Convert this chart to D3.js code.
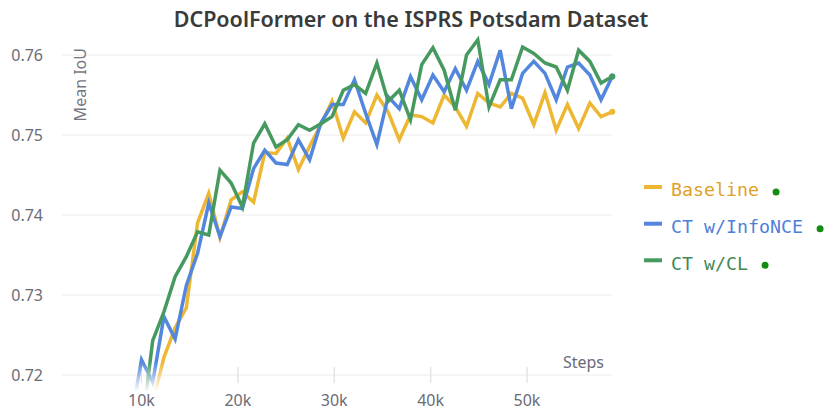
<!DOCTYPE html>
<html>
<head>
<meta charset="utf-8">
<script src="https://cdn.jsdelivr.net/npm/d3@7"></script>
<style>
  html, body { margin: 0; padding: 0; background: #fff; }
  #chart { width: 826px; height: 411px; }
</style>
</head>
<body>
<div id="chart"></div>
<script>
// Data
const steps = [8837, 10000, 11163, 12326, 13489, 14652, 15815, 16978, 18141, 19304, 20467,
    21630, 22793, 23956, 25119, 26282, 27445, 28608, 29771, 30934, 32097, 33260, 34423,
    35586, 36749, 37912, 39075, 40238, 41401, 42564, 43727, 44890, 46053, 47216, 48379,
    49542, 50705, 51868, 53031, 54194, 55357, 56520, 57683, 58846];

const baseline = [0.7095, 0.7115, 0.7165, 0.7222, 0.7259, 0.7284, 0.7390, 0.7427, 0.7372, 0.7419,
    0.7429, 0.7416, 0.7478, 0.7477, 0.7496, 0.7457, 0.7486, 0.7513, 0.7542, 0.7496, 0.7529,
    0.7515, 0.7550, 0.7529, 0.7494, 0.7525, 0.7523, 0.7515, 0.7550, 0.7535, 0.7511, 0.7552,
    0.7540, 0.7535, 0.7552, 0.7546, 0.7513, 0.7553, 0.7506, 0.7538, 0.7508, 0.7540, 0.7523, 0.7529];

const infoNCE = [0.7139, 0.7219, 0.7191, 0.7273, 0.7245, 0.7312, 0.7352, 0.7415, 0.7373, 0.7410,
    0.7408, 0.7458, 0.7481, 0.7465, 0.7463, 0.7494, 0.7469, 0.7515, 0.7538, 0.7538, 0.7569,
    0.7527, 0.7488, 0.7548, 0.7533, 0.7573, 0.7544, 0.7575, 0.7554, 0.7583, 0.7556, 0.7592,
    0.7563, 0.7606, 0.7533, 0.7577, 0.7592, 0.7577, 0.7544, 0.7585, 0.7590, 0.7575, 0.7544, 0.7573];

const ctCL = [0.7070, 0.7130, 0.7243, 0.7279, 0.7323, 0.7348, 0.7379, 0.7375, 0.7456, 0.7440,
    0.7410, 0.7490, 0.7514, 0.7485, 0.7494, 0.7513, 0.7506, 0.7514, 0.7523, 0.7556, 0.7563,
    0.7552, 0.7590, 0.7542, 0.7556, 0.7519, 0.7588, 0.7609, 0.7581, 0.7531, 0.7600, 0.7619,
    0.7535, 0.7569, 0.7569, 0.7610, 0.7602, 0.7590, 0.7585, 0.7556, 0.7606, 0.7592, 0.7565, 0.7573];

const seriesNames = ['Baseline', 'CT w/InfoNCE', 'CT w/CL'];
const yTicks = [0.72, 0.73, 0.74, 0.75, 0.76];
const xTicks = [10000, 20000, 30000, 40000, 50000];

// Layout
const width = 826;
const height = 411;
const lineColors = ['#EDB732', '#5387DD', '#479A5F'];
const textColors = ['#E0A12A', '#4F80D8', '#3F8A55'];

const svg = d3.select('#chart')
    .append('svg')
    .attr('width', width)
    .attr('height', height);

const x = d3.scaleLinear()
    .domain([10000, 50000])
    .range([141.5, 527]);

const y = d3.scaleLinear()
    .domain([0.72, 0.76])
    .range([375, 55]);

const gridLeft = 62;
const gridRight = 612;

// Title
svg.append('text')
    .attr('x', 411)
    .attr('y', 27)
    .attr('text-anchor', 'middle')
    .style('font-family', '"Noto Sans", sans-serif')
    .style('font-size', '21.5px')
    .style('font-weight', '600')
    .style('fill', '#3a3a3a')
    .text('DCPoolFormer on the ISPRS Potsdam Dataset');

// Horizontal grid lines
svg.append('g')
    .attr('class', 'grid')
    .selectAll('line')
    .data(yTicks)
    .enter()
    .append('line')
    .attr('x1', gridLeft)
    .attr('x2', gridRight)
    .attr('y1', d => y(d))
    .attr('y2', d => y(d))
    .style('stroke', '#ececec')
    .style('stroke-width', 1);

// Y tick labels
svg.append('g')
    .selectAll('text')
    .data(yTicks)
    .enter()
    .append('text')
    .attr('x', 43)
    .attr('y', d => y(d))
    .attr('dy', '0.35em')
    .attr('text-anchor', 'end')
    .style('font-family', '"Noto Sans", sans-serif')
    .style('font-size', '16px')
    .style('fill', '#6b6b76')
    .text(d => d.toFixed(2));

// X axis tick marks and labels
const xAxis = svg.append('g').attr('class', 'x-axis');

xAxis.selectAll('line')
    .data(xTicks)
    .enter()
    .append('line')
    .attr('x1', d => x(d))
    .attr('x2', d => x(d))
    .attr('y1', y(0.72) - 8)
    .attr('y2', y(0.72) + 8)
    .style('stroke', '#e4e4e4')
    .style('stroke-width', 1.5);

xAxis.selectAll('text')
    .data(xTicks)
    .enter()
    .append('text')
    .attr('x', d => x(d))
    .attr('y', 400)
    .attr('dy', '0.35em')
    .attr('text-anchor', 'middle')
    .style('font-family', '"Noto Sans", sans-serif')
    .style('font-size', '16px')
    .style('fill', '#6b6b76')
    .text(d => (d / 1000) + 'k');

// Axis labels
svg.append('text')
    .attr('transform', 'translate(80, 48) rotate(-90)')
    .attr('dy', '0.35em')
    .attr('text-anchor', 'end')
    .style('font-family', '"Noto Sans", sans-serif')
    .style('font-size', '16px')
    .style('fill', '#77777f')
    .text('Mean IoU');

svg.append('text')
    .attr('x', 604)
    .attr('y', 362)
    .attr('dy', '0.35em')
    .attr('text-anchor', 'end')
    .style('font-family', '"Noto Sans", sans-serif')
    .style('font-size', '16px')
    .style('fill', '#6b6b76')
    .text('Steps');

// Fade the lines out below the x axis
const defs = svg.append('defs');
const fade = defs.append('linearGradient')
    .attr('id', 'fade')
    .attr('gradientUnits', 'userSpaceOnUse')
    .attr('x1', 0).attr('y1', 362)
    .attr('x2', 0).attr('y2', 392);
fade.append('stop').attr('offset', '0%').attr('stop-color', '#fff');
fade.append('stop').attr('offset', '100%').attr('stop-color', '#000');

defs.append('mask')
    .attr('id', 'fade-mask')
    .attr('maskUnits', 'userSpaceOnUse')
    .attr('x', 0).attr('y', 0)
    .attr('width', width).attr('height', height)
    .append('rect')
    .attr('x', 0).attr('y', 0)
    .attr('width', width).attr('height', height)
    .attr('fill', 'url(#fade)');

// Lines
const allSeries = [baseline, infoNCE, ctCL];
const line = d3.line()
    .x((d, i) => x(steps[i]))
    .y(d => y(d));

const lines = svg.append('g')
    .attr('mask', 'url(#fade-mask)');

lines.selectAll('path')
    .data(allSeries)
    .enter()
    .append('path')
    .attr('d', d => line(d))
    .attr('fill', 'none')
    .attr('stroke', (d, i) => lineColors[i])
    .attr('stroke-width', 3.5)
    .attr('stroke-linejoin', 'miter')
    .attr('stroke-linecap', 'butt');

// Last point markers
lines.selectAll('circle')
    .data(allSeries)
    .enter()
    .append('circle')
    .attr('cx', x(steps[steps.length - 1]))
    .attr('cy', d => y(d[d.length - 1]))
    .attr('r', 3)
    .attr('fill', (d, i) => lineColors[i]);

// Legend
const legend = svg.append('g').attr('class', 'legend');
const rowY = [190, 226.7, 263.3];

seriesNames.forEach((name, i) => {
    const row = legend.append('g');
    row.append('line')
        .attr('x1', 644).attr('x2', 662)
        .attr('y1', rowY[i] - 3).attr('y2', rowY[i] - 3)
        .attr('stroke', lineColors[i])
        .attr('stroke-width', 4);
    const label = row.append('text')
        .attr('x', 671)
        .attr('y', rowY[i])
        .attr('dy', '0.35em')
        .style('font-family', '"DejaVu Sans Mono", monospace')
        .style('font-size', '18.3px')
        .style('fill', textColors[i])
        .text(name);
    const w = label.node().getComputedTextLength();
    row.append('circle')
        .attr('cx', 671 + w + 17)
        .attr('cy', rowY[i] + 2)
        .attr('r', 3.5)
        .attr('fill', '#148c14');
});
</script>
</body>
</html>
